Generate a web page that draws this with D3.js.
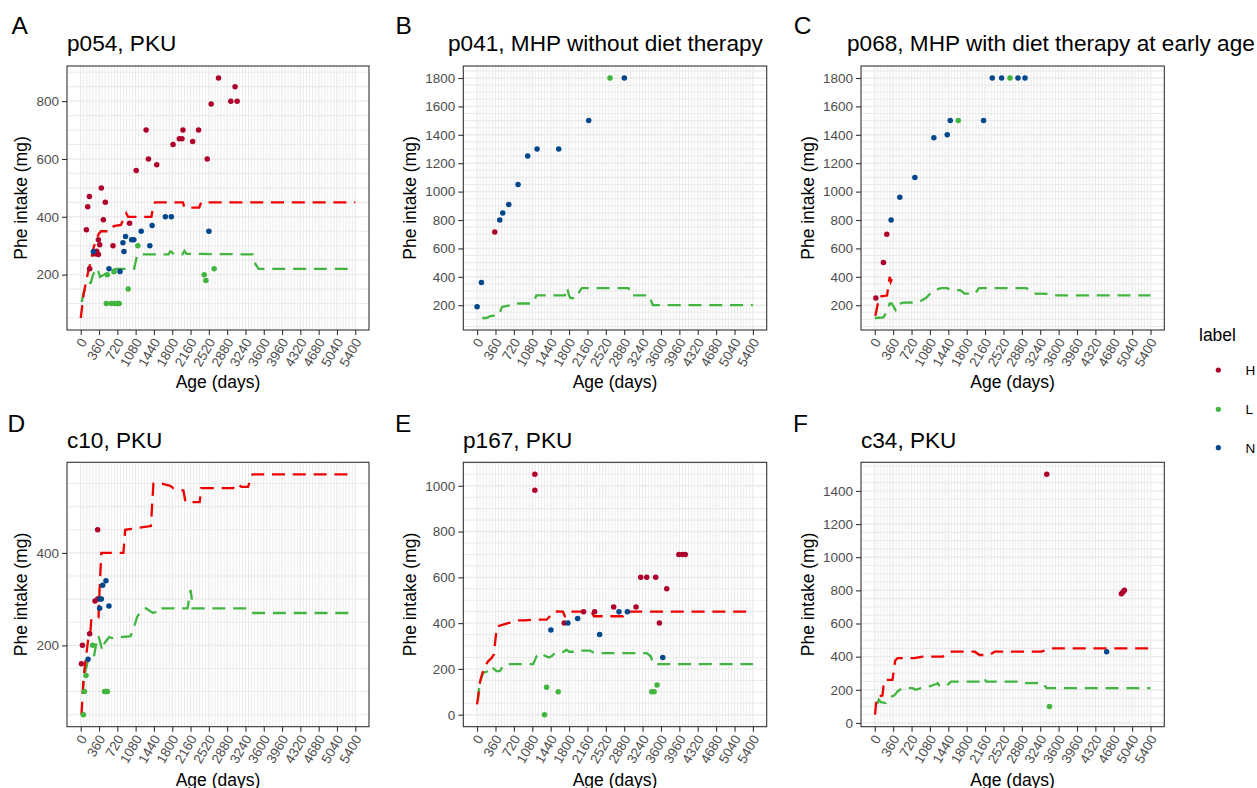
<!DOCTYPE html>
<html><head><meta charset="utf-8">
<script src="https://cdn.jsdelivr.net/npm/d3@7"></script>
<style>
body{margin:0;background:#fff;}
text{font-family:"Liberation Sans",Arial,Helvetica,sans-serif;}
</style>
</head><body>
<svg id="chart" width="1257" height="788"></svg>
<script>
// ---------------- DATA ----------------
const xTickLabels = [0,360,720,1080,1440,1800,2160,2520,2880,3240,3600,3960,4320,4680,5040,5400];
const labelNames = ["H","L","N"];
const labelColors = ["#AD002A","#42B540","#00468B"];
const panelLetters = ["A","B","C","D","E","F"];
const panelTitles = ["p054, PKU","p041, MHP without diet therapy","p068, MHP with diet therapy at early age","c10, PKU","p167, PKU","c34, PKU"];

const yTicksA = [200,400,600,800];
const yTicksB = [200,400,600,800,1000,1200,1400,1600,1800];
const yTicksC = [200,400,600,800,1000,1200,1400,1600,1800];
const yTicksD = [200,400];
const yTicksE = [0,200,400,600,800,1000];
const yTicksF = [0,200,400,600,800,1000,1200,1400];

// points: [age (days), Phe intake (mg), label]
const pointsA = [
 [111,355,"H"],[137,435,"H"],[170,470,"H"],[176,220,"H"],[275,272,"H"],[314,281,"H"],[347,270,"H"],[347,321,"H"],[373,303,"H"],[405,500,"H"],[445,390,"H"],[483,450,"H"],[634,300,"H"],[960,378,"H"],[1091,560,"H"],[1286,700,"H"],[1332,600,"H"],[1495,580,"H"],[1815,650,"H"],[1939,670,"H"],[1992,670,"H"],[2011,700,"H"],[2201,660,"H"],[2318,700,"H"],[2488,600,"H"],[2566,790,"H"],[2710,880,"H"],[2952,800,"H"],[3036,850,"H"],[3076,800,"H"],
 [503,100,"L"],[601,100,"L"],[666,100,"L"],[712,100,"L"],[740,100,"L"],[757,100,"L"],[523,200,"L"],[654,210,"L"],[934,150,"L"],[1124,300,"L"],[2429,200,"L"],[2462,180,"L"],[2625,220,"L"],
 [249,280,"N"],[556,220,"N"],[772,211,"N"],[830,310,"N"],[850,280,"N"],[882,332,"N"],[1000,321,"N"],[1045,321,"N"],[1189,350,"N"],[1359,300,"N"],[1404,370,"N"],[1665,400,"N"],[1782,400,"N"],[2521,350,"N"]
];
const pointsB = [
 [346,715,"H"],[2602,1800,"L"],
 [0,190,"N"],[85,360,"N"],[443,800,"N"],[502,850,"N"],[620,910,"N"],[802,1050,"N"],[991,1250,"N"],[1174,1300,"N"],[1598,1300,"N"],[2185,1500,"N"],[2883,1800,"N"]
];
const pointsC = [
 [20,250,"H"],[170,500,"H"],[235,700,"H"],
 [1635,1500,"L"],[2648,1800,"L"],
 [320,800,"N"],[490,960,"N"],[785,1100,"N"],[1157,1380,"N"],[1419,1400,"N"],[1478,1500,"N"],[2131,1500,"N"],[2301,1800,"N"],[2484,1800,"N"],[2805,1800,"N"],[2942,1800,"N"]
];
const pointsD = [
 [13,160,"H"],[33,200,"H"],[176,225,"H"],[281,296,"H"],[333,300,"H"],[333,450,"H"],
 [52,50,"L"],[72,100,"L"],[104,135,"L"],[235,200,"L"],[470,100,"L"],[500,100,"L"],[525,100,"L"],
 [144,170,"N"],[372,280,"N"],[379,300,"N"],[405,300,"N"],[431,330,"N"],[496,340,"N"],[555,285,"N"]
];
const pointsE = [
 [1131,1050,"H"],[1131,980,"H"],[1706,400,"H"],[2085,450,"H"],[2301,450,"H"],[2674,470,"H"],[3112,470,"H"],[3203,600,"H"],[3321,600,"H"],[3497,600,"H"],[3569,400,"H"],[3713,550,"H"],[3950,700,"H"],[4020,700,"H"],[4075,700,"H"],
 [1320,0,"L"],[1360,120,"L"],[1588,100,"L"],[3419,100,"L"],[3465,100,"L"],[3523,130,"L"],
 [1445,370,"N"],[1778,400,"N"],[1968,420,"N"],[2399,350,"N"],[2778,450,"N"],[2942,450,"N"],[3635,250,"N"]
];
const pointsF = [
 [3368,1500,"H"],[4830,780,"H"],[4862,790,"H"],[4889,800,"H"],
 [3421,100,"L"],
 [4541,430,"N"]
];

// upper (red) and lower (green) reference lines: [age, Phe intake]
const redA = [[0,50],[60,135],[140,205],[190,240],[255,295],[350,340],[400,350],[590,350],[650,368],[790,372],[860,400],[895,412],[930,400],[1390,400],[1420,430],[1460,450],[2010,450],[2040,432],[2330,432],[2370,450],[5400,450]];
const greenA = [[20,105],[60,140],[150,170],[200,172],[240,200],[330,222],[380,192],[460,200],[600,215],[700,220],[1050,220],[1110,268],[1150,270],[1730,270],[1760,280],[1790,278],[1830,270],[2000,270],[2040,282],[2080,272],[3380,270],[3440,235],[3500,220],[5400,220]];
const redB = [];
const greenB = [[100,110],[183,110],[209,114],[261,124],[420,128],[489,188],[560,193],[650,200],[720,212],[1076,212],[1109,223],[1161,270],[1720,270],[1745,320],[1765,320],[1800,268],[1830,250],[1950,250],[2010,300],[2050,320],[2967,320],[3013,270],[3370,270],[3440,200],[5400,200]];
const redC = [[10,125],[60,210],[90,262],[240,268],[270,345],[292,400],[312,365],[355,405]];
const greenC = [[0,110],[170,115],[260,170],[290,212],[330,212],[410,165],[480,210],[560,218],[850,220],[1000,250],[1110,290],[1200,310],[1300,320],[1420,320],[1480,308],[1680,305],[1760,282],[1960,280],[2040,320],[2970,320],[3040,305],[3120,282],[3380,280],[3480,270],[5400,270]];
const redD = [[15,50],[35,90],[60,135],[157,222],[190,230],[210,258],[350,260],[370,320],[405,400],[840,400],[875,450],[1000,452],[1380,458],[1430,550],[1600,550],[1760,545],[1820,540],[2020,535],[2060,510],[2340,510],[2370,540],[3000,540],[3070,550],[3160,543],[3290,543],[3380,570],[5400,570]];
const greenD = [[40,95],[60,128],[80,140],[118,155],[144,169],[260,176],[300,200],[346,220],[372,212],[420,190],[444,191],[470,205],[560,218],[600,216],[980,220],[1045,238],[1110,262],[1210,277],[1280,280],[1420,270],[1470,272],[1500,280],[2100,280],[2160,320],[2185,300],[2200,280],[3260,280],[3350,270],[5400,270]];
const redE = [[0,45],[30,95],[55,140],[85,167],[150,211],[216,233],[281,247],[327,262],[366,342],[392,386],[510,393],[608,400],[700,405],[804,412],[935,412],[1098,415],[1360,415],[1425,430],[1504,451],[1680,450],[1720,430],[1780,435],[1820,450],[2240,450],[2290,430],[2860,430],[2940,450],[5400,450]];
const greenE = [[15,60],[40,116],[70,153],[118,182],[216,190],[281,211],[330,200],[379,190],[445,190],[520,215],[575,221],[1098,221],[1163,255],[1229,269],[1290,262],[1400,250],[1458,255],[1523,269],[1700,275],[1750,284],[1800,275],[1900,275],[2000,280],[2209,280],[2300,269],[3321,269],[3400,255],[3451,221],[5400,221]];
const redF = [[5,50],[30,140],[50,160],[150,165],[183,255],[200,260],[347,260],[400,377],[446,391],[773,391],[937,400],[1330,400],[1428,421],[1500,430],[1960,430],[2051,410],[2248,410],[2346,430],[3263,430],[3427,450],[5400,450]];
const greenF = [[50,115],[80,140],[120,125],[215,120],[330,160],[380,165],[420,180],[446,190],[520,205],[577,210],[740,210],[800,200],[904,210],[1068,220],[1200,235],[1232,240],[1265,225],[1400,222],[1461,240],[1494,250],[2100,250],[2140,270],[2182,250],[2880,250],[2960,240],[3296,240],[3362,210],[5400,210]];

// ---------------- LAYOUT ----------------
const panels = [
 {pts:pointsA, red:redA, green:greenA, yTicks:yTicksA, left:67,    top:66,    w:302,   h:264,   titleX:67,  letterX:11.5,  row:0},
 {pts:pointsB, red:redB, green:greenB, yTicks:yTicksB, left:463.3, top:66,    w:303.4, h:264,   titleX:448, letterX:395.5, row:0},
 {pts:pointsC, red:redC, green:greenC, yTicks:yTicksC, left:861,   top:66,    w:303.3, h:264,   titleX:847, letterX:793.8, row:0},
 {pts:pointsD, red:redD, green:greenD, yTicks:yTicksD, left:67,    top:462.3, w:302,   h:264.4, titleX:67,  letterX:7.5,   row:1},
 {pts:pointsE, red:redE, green:greenE, yTicks:yTicksE, left:463.3, top:462.3, w:303.4, h:264.4, titleX:463, letterX:395,   row:1},
 {pts:pointsF, red:redF, green:greenF, yTicks:yTicksF, left:861,   top:462.3, w:303.3, h:264.4, titleX:861, letterX:793,   row:1}
];
const rowLetterY = [34.3, 431.5];
const rowTitleY = [51, 448];
const rowXTitleY = [388, 786];

const FONT = '"Liberation Sans",Arial,Helvetica,sans-serif';
const gridCol = "#EBEBEB";
const colorOf = d3.scaleOrdinal().domain(labelNames).range(labelColors);

const svg = d3.select("#chart");
svg.append("rect").attr("width",1257).attr("height",788).attr("fill","#fff");

panels.forEach((p,i) => {
  const g = svg.append("g");
  const x = d3.scaleLinear().domain([-270,5670]).range([p.left, p.left+p.w]);
  const allY = p.pts.map(d=>d[1]).concat(p.red.map(d=>d[1]), p.green.map(d=>d[1]));
  const lo = d3.min(allY), hi = d3.max(allY), pad = (hi-lo)*0.05;
  const y = d3.scaleLinear().domain([lo-pad, hi+pad]).range([p.top+p.h, p.top]);

  // minor grid
  const minorY = d3.range(Math.ceil((lo-pad)/50)*50, hi+pad, 50).filter(v => !p.yTicks.includes(v));
  g.selectAll(null).data(minorY).join("line")
    .attr("x1",p.left).attr("x2",p.left+p.w).attr("y1",d=>y(d)).attr("y2",d=>y(d))
    .attr("stroke",gridCol).attr("stroke-width",1.1);
  const minorX = d3.range(0,5401,60).filter(v => v%360!==0);
  g.selectAll(null).data(minorX).join("line")
    .attr("y1",p.top).attr("y2",p.top+p.h).attr("x1",d=>x(d)).attr("x2",d=>x(d))
    .attr("stroke",gridCol).attr("stroke-width",1.0);
  // major grid
  g.selectAll(null).data(p.yTicks).join("line")
    .attr("x1",p.left).attr("x2",p.left+p.w).attr("y1",d=>y(d)).attr("y2",d=>y(d))
    .attr("stroke",gridCol).attr("stroke-width",1.4);
  g.selectAll(null).data(xTickLabels).join("line")
    .attr("y1",p.top).attr("y2",p.top+p.h).attr("x1",d=>x(d)).attr("x2",d=>x(d))
    .attr("stroke",gridCol).attr("stroke-width",1.3);

  // reference lines
  const line = d3.line().x(d=>x(d[0])).y(d=>y(d[1]));
  [[p.green,"#42B540"],[p.red,"#ED0000"]].forEach(([arr,col]) => {
    if (!arr.length) return;
    g.append("path").datum(arr).attr("d",line).attr("fill","none")
      .attr("stroke",col).attr("stroke-width",2.3).attr("stroke-dasharray","13,7.8");
  });

  // points
  g.selectAll(null).data(p.pts).join("circle")
    .attr("cx",d=>x(d[0])).attr("cy",d=>y(d[1])).attr("r",2.75)
    .attr("fill",d=>colorOf(d[2]));

  // border
  g.append("rect").attr("x",p.left).attr("y",p.top).attr("width",p.w).attr("height",p.h)
    .attr("fill","none").attr("stroke","#333333").attr("stroke-width",1.1);

  // y axis
  const ya = g.append("g").attr("transform",`translate(${p.left},0)`)
    .call(d3.axisLeft(y).tickValues(p.yTicks).tickSize(5).tickPadding(3).tickFormat(d3.format("d")));
  ya.select(".domain").remove();
  ya.selectAll(".tick line").attr("stroke","#333333").attr("stroke-width",1.1);
  ya.selectAll(".tick text").attr("fill","#4D4D4D").style("font-size","13.5px").style("font-family",FONT);

  // x axis
  const xa = g.append("g").attr("transform",`translate(0,${p.top+p.h})`)
    .call(d3.axisBottom(x).tickValues(xTickLabels).tickSize(5).tickFormat(d3.format("d")));
  xa.select(".domain").remove();
  xa.selectAll(".tick line").attr("stroke","#333333").attr("stroke-width",1.1);
  xa.selectAll(".tick text").attr("fill","#4D4D4D").style("font-size","13.5px").style("font-family",FONT)
    .attr("x",0).attr("y",0).attr("dy","0.71em").attr("text-anchor","end")
    .attr("transform","translate(-2,7) rotate(-60)");

  // y title
  const maxW = d3.max(ya.selectAll(".tick text").nodes(), n => n.getComputedTextLength());
  const yTitleX = p.left - 8 - maxW - 9;
  g.append("text").attr("transform",`translate(${yTitleX},${p.top+p.h/2}) rotate(-90)`)
    .attr("text-anchor","middle").style("font-size","17.5px").attr("fill","#000")
    .text("Phe intake (mg)");
  // x title
  g.append("text").attr("x",p.left+p.w/2).attr("y",rowXTitleY[p.row])
    .attr("text-anchor","middle").style("font-size","17.5px").attr("fill","#000")
    .text("Age (days)");
  // panel title
  g.append("text").attr("x",p.titleX).attr("y",rowTitleY[p.row])
    .style("font-size","22.6px").attr("fill","#000").text(panelTitles[i]);
  // panel letter
  g.append("text").attr("x",p.letterX).attr("y",rowLetterY[p.row])
    .style("font-size","24.5px").attr("fill","#000").text(panelLetters[i]);
});

// legend
const lg = svg.append("g");
lg.append("text").attr("x",1199).attr("y",340.7).style("font-size","17.5px").attr("fill","#000").text("label");
const legY = [370, 409.3, 447.7];
labelNames.forEach((n,i) => {
  lg.append("circle").attr("cx",1218.3).attr("cy",legY[i]).attr("r",2.6).attr("fill",labelColors[i]);
  lg.append("text").attr("x",1245.5).attr("y",legY[i]+4.8).style("font-size","13.5px").attr("fill","#000").text(n);
});
</script>
</body></html>
